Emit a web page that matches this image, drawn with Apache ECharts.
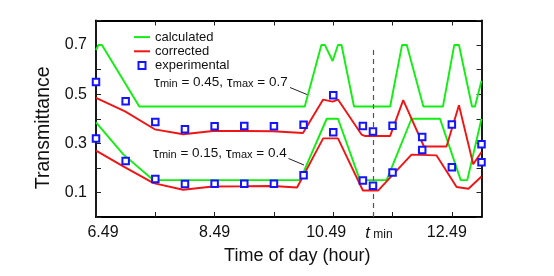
<!DOCTYPE html>
<html><head><meta charset="utf-8">
<script src="https://cdn.jsdelivr.net/npm/echarts@6/dist/echarts.min.js"></script>
<style>html,body{margin:0;padding:0;background:#fff}#c{width:554px;height:276px}</style>
</head><body><div id="c"></div>
<script>
// ---- data ----
const expTimes = [6.49, 6.99, 7.49, 7.99, 8.49, 8.99, 9.49, 9.99, 10.49, 10.99, 11.16, 11.49, 11.99, 12.49, 12.99];
const expUpper = [0.55, 0.471, 0.387, 0.357, 0.369, 0.37, 0.369, 0.376, 0.496, 0.37, 0.348, 0.371, 0.326, 0.377, 0.296];
const expLower = [0.32, 0.228, 0.155, 0.134, 0.135, 0.135, 0.135, 0.17, 0.345, 0.149, 0.127, 0.181, 0.273, 0.203, 0.223];

const calcUpperT = [6.49, 6.53, 6.59, 7.22, 10.01, 10.29, 10.35, 10.48, 10.57, 10.63, 10.84, 11.45, 11.65, 11.73, 12.01, 12.34, 12.53, 12.61, 12.83, 12.88, 12.99];
const calcUpperV = [0.68, 0.70, 0.70, 0.45, 0.45, 0.70, 0.70, 0.635, 0.70, 0.70, 0.45, 0.45, 0.70, 0.70, 0.45, 0.45, 0.70, 0.70, 0.45, 0.45, 0.555];

const calcLowerT = [6.49, 6.95, 7.46, 9.93, 10.38, 10.57, 10.94, 11.39, 11.81, 12.29, 12.64, 12.75, 12.99];
const calcLowerV = [0.385, 0.255, 0.15, 0.15, 0.40, 0.40, 0.15, 0.15, 0.40, 0.40, 0.15, 0.15, 0.40];

const corrUpperT = [6.49, 6.98, 7.48, 7.96, 8.46, 8.99, 9.47, 9.98, 10.32, 10.48, 10.57, 10.97, 11.02, 11.45, 11.67, 12.02, 12.40, 12.61, 12.85, 12.99];
const corrUpperV = [0.485, 0.43, 0.357, 0.337, 0.35, 0.35, 0.349, 0.342, 0.478, 0.47, 0.478, 0.335, 0.33, 0.33, 0.476, 0.287, 0.287, 0.455, 0.215, 0.265];

const corrLowerT = [6.49, 6.95, 7.46, 7.96, 8.46, 8.99, 9.47, 9.88, 10.32, 10.57, 10.99, 11.25, 11.81, 12.23, 12.57, 12.77, 12.99];
const corrLowerV = [0.27, 0.206, 0.138, 0.111, 0.124, 0.125, 0.126, 0.12, 0.32, 0.32, 0.108, 0.108, 0.254, 0.251, 0.122, 0.115, 0.165];

const tMin = 11.16;
const xTickValues = [6.49, 7.49, 8.49, 9.49, 10.49, 11.49, 12.49];
const xLabelValues = [6.49, 8.49, 10.49, 11.16, 12.49];
const yLabelValues = [0.1, 0.3, 0.5, 0.7];
const seriesNames = ['calculated', 'corrected', 'experimental'];
const annotUpper = ['τ', 'min', ' = 0.45, ', 'τ', 'max', ' = 0.7'];
const annotLower = ['τ', 'min', ' = 0.15, ', 'τ', 'max', ' = 0.4'];

// ---- helpers ----
const zip = (a, b) => a.map((v, i) => [v, b[i]]);
const FONT = "'Liberation Sans', Arial, sans-serif";
const GREEN = '#12ee12', RED = '#f01414', BLUE = '#1414ff';

function annotText(parts) {
  return '{t|' + parts[0] + '}{s|' + parts[1] + '}{n|' + parts[2] + '}{t|' + parts[3] + '}{s|' + parts[4] + '}{n|' + parts[5] + '}';
}
const annotRich = {
  t: {fontSize: 15, fontFamily: FONT, fill: '#111', color: '#111'},
  s: {fontSize: 11, fontFamily: FONT, fill: '#111', color: '#111', padding: [3, 0, 0, 0]},
  n: {fontSize: 13.5, fontFamily: FONT, fill: '#111', color: '#111'}
};

const lineSeries = (name, t, v, color, z) => ({
  name, type: 'line', data: zip(t, v), symbol: 'none', showSymbol: false,
  lineStyle: {color, width: 1.9}, itemStyle: {color}, z, animation: false
});
const scatterSeries = (name, vals) => ({
  name, type: 'scatter', data: zip(expTimes, vals), symbol: 'rect', symbolSize: 6.5,
  itemStyle: {color: '#fff', borderColor: BLUE, borderWidth: 2, opacity: 1}, z: 5, animation: false
});

const chart = echarts.init(document.getElementById('c'), null, {renderer: 'canvas'});
const xCommon = {type: 'value', min: 6.49, max: 12.99, splitLine: {show: false},
  axisLine: {show: true, onZero: false, lineStyle: {color: '#000', width: 1.8}},
  axisTick: {show: true, inside: true, length: 5, customValues: xTickValues, lineStyle: {color: '#222', width: 1}}};
const yCommon = {type: 'value', min: 0, max: 0.8, interval: 0.1, splitLine: {show: false},
  axisLine: {show: true, onZero: false, lineStyle: {color: '#000', width: 1.8}},
  axisTick: {show: true, inside: true, length: 5, lineStyle: {color: '#222', width: 1}}};

const labelShift = {'6.49': [0, 0, 0, 14], '8.49': [0, 0, 0, 0], '10.49': [0, 14, 0, 0], '12.49': [0, 10, 0, 0]};
const LINE_ICON = 'path://M0,0H16V2H0Z';

chart.setOption({
  animation: false,
  backgroundColor: '#fff',
  grid: {left: 96, right: 72.5, top: 20.5, bottom: 59, containLabel: false},
  legend: {
    orient: 'vertical', left: 129, top: 25, itemWidth: 16, itemHeight: 7, itemGap: 0,
    textStyle: {fontSize: 13, lineHeight: 14.2, fontFamily: FONT, color: '#111'},
    data: [
      {name: seriesNames[0], icon: LINE_ICON, itemStyle: {color: GREEN, borderWidth: 0}},
      {name: seriesNames[1], icon: LINE_ICON, itemStyle: {color: RED, borderWidth: 0}},
      {name: seriesNames[2], icon: 'path://M0,0H10V10H0Z', itemStyle: {color: '#fff', borderColor: BLUE, borderWidth: 2}}
    ]
  },
  xAxis: [
    Object.assign({}, xCommon, {
      position: 'bottom',
      name: 'Time of day (hour)', nameLocation: 'middle', nameGap: 30,
      nameTextStyle: {fontSize: 18, fontFamily: FONT, color: '#111', padding: [0, 0, 0, 17]},
      axisLabel: {
        show: true, margin: 8, customValues: xLabelValues, color: '#111', fontFamily: FONT, fontSize: 16,
        formatter: v => {
          if (Math.abs(v - tMin) < 1e-6) return '{ti|t}{sb| min}';
          const k = v.toFixed(2);
          return '{' + 'l' + k.replace('.', '_') + '|' + k + '}';
        },
        rich: {
          ti: {fontSize: 17, fontStyle: 'italic', fontFamily: FONT, color: '#111', padding: [0, 0, 0, 12]},
          sb: {fontSize: 12, fontFamily: FONT, color: '#111', padding: [3, 0, 0, 0]},
          l6_49: {fontSize: 16, fontFamily: FONT, color: '#111', padding: labelShift['6.49']},
          l8_49: {fontSize: 16, fontFamily: FONT, color: '#111', padding: labelShift['8.49']},
          l10_49: {fontSize: 16, fontFamily: FONT, color: '#111', padding: labelShift['10.49']},
          l12_49: {fontSize: 16, fontFamily: FONT, color: '#111', padding: labelShift['12.49']}
        }
      }
    }),
    Object.assign({}, xCommon, {position: 'top', axisLabel: {show: false}})
  ],
  yAxis: [
    Object.assign({}, yCommon, {
      position: 'left',
      name: 'Transmittance', nameLocation: 'middle', nameGap: 32, nameRotate: 90,
      nameTextStyle: {fontSize: 19.5, fontFamily: FONT, color: '#111', padding: [0, 18, 0, 0]},
      axisLabel: {
        show: true, margin: 9, color: '#111', fontFamily: FONT, fontSize: 16,
        formatter: v => (yLabelValues.some(y => Math.abs(y - v) < 1e-6) ? v.toFixed(1) : '')
      }
    }),
    Object.assign({}, yCommon, {position: 'right', axisLabel: {show: false}})
  ],
  series: [
    Object.assign(lineSeries(seriesNames[0], calcUpperT, calcUpperV, GREEN, 2), {
      markLine: {
        silent: true, symbol: 'none', label: {show: false}, animation: false,
        lineStyle: {color: '#555', width: 1.2, type: [5, 4]},
        data: [[{coord: [tMin, 0]}, {coord: [tMin, 0.695]}]]
      }
    }),
    lineSeries(seriesNames[0], calcLowerT, calcLowerV, GREEN, 2),
    lineSeries(seriesNames[1], corrUpperT, corrUpperV, RED, 3),
    lineSeries(seriesNames[1], corrLowerT, corrLowerV, RED, 3),
    scatterSeries(seriesNames[2], expUpper),
    scatterSeries(seriesNames[2], expLower)
  ],
  graphic: [
    {type: 'text', left: 154, top: 75, z: 10, style: {text: annotText(annotUpper), rich: annotRich, fill: '#111'}},
    {type: 'text', left: 153, top: 146, z: 10, style: {text: annotText(annotLower), rich: annotRich, fill: '#111'}},
    {type: 'polyline', z: 100, shape: {points: [[290, 87.5], [307, 94.5]]}, style: {stroke: '#222', lineWidth: 1, fill: null}},
    {type: 'polyline', z: 100, shape: {points: [[288.5, 158.5], [304, 165]]}, style: {stroke: '#222', lineWidth: 1, fill: null}}
  ]
});
</script>
</body></html>
